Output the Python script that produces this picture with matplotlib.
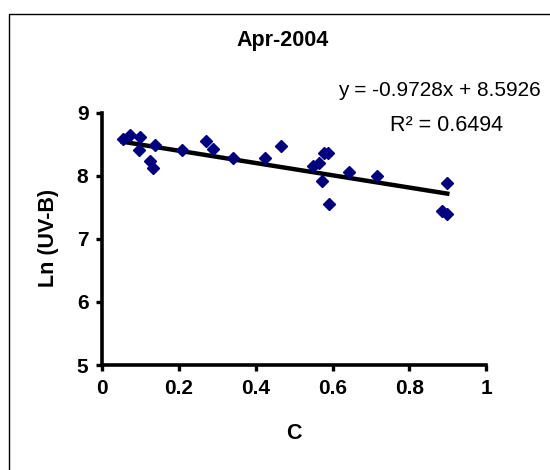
# scatter of Ln(UV-B) against C with linear trendline
import numpy as np
import matplotlib.pyplot as plt
from matplotlib.patches import Rectangle

plt.rcParams['font.family'] = ['Liberation Sans', 'DejaVu Sans']

# values
c_values = [0.053, 0.072, 0.098, 0.096, 0.137, 0.124, 0.131, 0.207, 0.270, 0.289,
            0.340, 0.424, 0.465, 0.548, 0.566, 0.578, 0.587, 0.573, 0.590, 0.644,
            0.717, 0.899, 0.885, 0.898]
ln_uvb = [8.58, 8.64, 8.61, 8.41, 8.49, 8.24, 8.13, 8.41, 8.55, 8.43,
          8.28, 8.28, 8.47, 8.15, 8.20, 8.37, 8.37, 7.92, 7.56, 8.06,
          8.00, 7.89, 7.45, 7.39]

# trendline as printed on the chart
slope = -0.9728
intercept = 8.5926
r_squared = 0.6494

x_ticks = [0, 0.2, 0.4, 0.6, 0.8, 1]
y_ticks = [5, 6, 7, 8, 9]

fig = plt.figure(figsize=(5.5, 4.7), dpi=100)
ax = fig.add_axes([0.186, 0.2234, 0.6977, 0.5366])

ax.plot(c_values, ln_uvb, linestyle='none', marker='D', markersize=6.5,
        color='#000080', markeredgecolor='#000080', zorder=3)

x_line = np.array([min(c_values), max(c_values)])
ax.plot(x_line, slope * x_line + intercept, color='black', linewidth=3.2, zorder=2)

ax.set_xlim(0, 1)
ax.set_ylim(5, 9)
ax.set_xticks(x_ticks)
ax.set_xticklabels(['0', '0.2', '0.4', '0.6', '0.8', '1'])
ax.set_yticks(y_ticks)

for side in ['top', 'right']:
    ax.spines[side].set_visible(False)
for side in ['left', 'bottom']:
    ax.spines[side].set_linewidth(2.6)
ax.tick_params(direction='out', length=4, width=2.4, labelsize=15, pad=6)
for lab in ax.get_xticklabels() + ax.get_yticklabels():
    lab.set_fontweight('bold')

ax.set_xlabel('C', fontsize=15.5, fontweight='bold')
ax.xaxis.label.set_va('center')
ax.xaxis.set_label_coords(0.4996, -0.2735)
ax.set_ylabel('Ln (UV-B)', fontsize=15.5, fontweight='bold')
ax.yaxis.label.set_va('center')
ax.yaxis.set_label_coords(-0.139, 0.503)

fig.text(0.5145, 0.9128, 'Apr-2004', fontsize=15.5, fontweight='bold',
         ha='center', va='center')
fig.text(338 / 550, 0.8085, 'y = %.4fx + %.4f' % (slope, intercept), fontsize=15,
         ha='left', va='center')
fig.text(447 / 550, 0.734, 'R² = %.4f' % r_squared, fontsize=15.5,
         ha='center', va='center')

# outer chart border, cut off at right and bottom like the source
fig.patches.append(Rectangle((9 / 550, -0.1), 1.2, 1.1 - 14 / 470,
                             transform=fig.transFigure, fill=False,
                             edgecolor='black', linewidth=1))

fig.savefig('out.png', dpi=100)
